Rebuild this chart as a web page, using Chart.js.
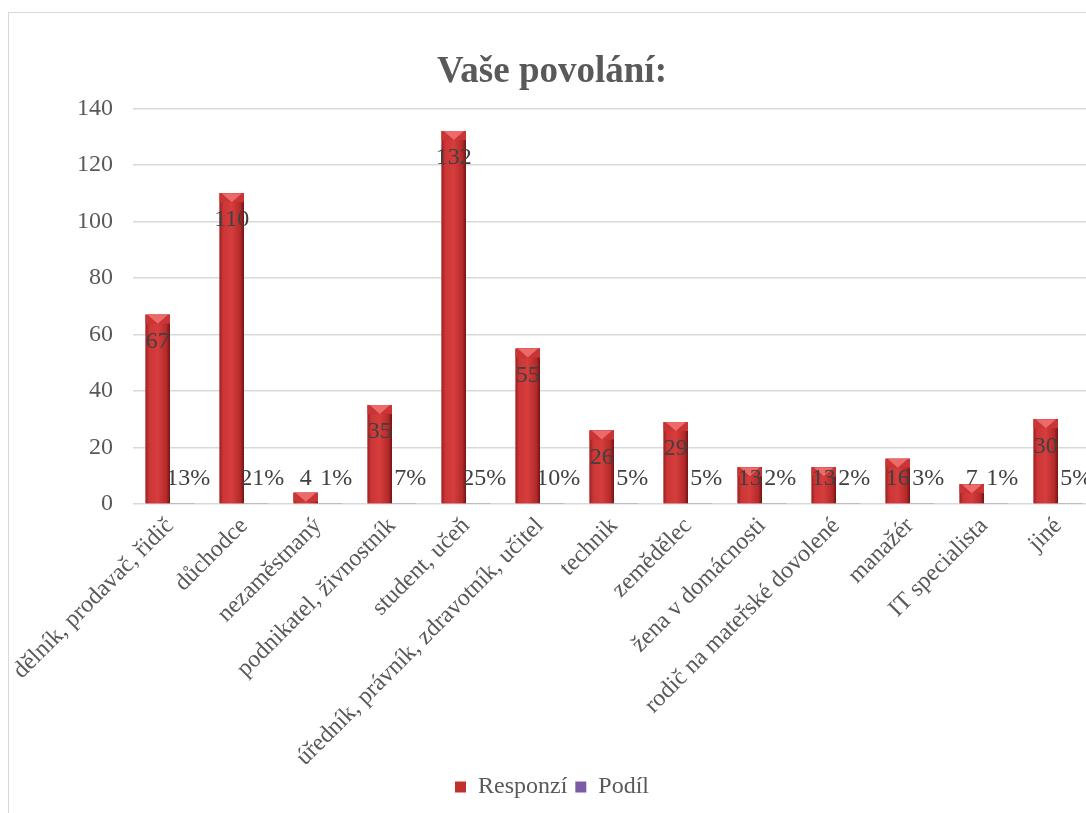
<!DOCTYPE html>
<html>
<head>
<meta charset="utf-8">
<script src="https://cdn.jsdelivr.net/npm/chart.js@4.4.0/dist/chart.umd.min.js"></script>
<style>
  body { margin: 0; background: #fff; overflow: hidden; }
  #ramec {
    position: absolute; left: 8px; top: 12px;
    width: 1116px; height: 801px;
    border-left: 1px solid #d9d9d9; border-top: 1px solid #d9d9d9;
  }
</style>
</head>
<body>
<div id="ramec"><canvas id="graf"></canvas></div>
<script>
// data z obrázku
const kategorie = [
  'dělník, prodavač, řidič', 'důchodce', 'nezaměstnaný', 'podnikatel, živnostník',
  'student, učeň', 'úředník, právník, zdravotník, učitel', 'technik', 'zemědělec',
  'žena v domácnosti', 'rodič na mateřské dovolené', 'manažér', 'IT specialista', 'jiné'
];
const responzi = [67, 110, 4, 35, 132, 55, 26, 29, 13, 13, 16, 7, 30];
const podil = [0.13, 0.21, 0.01, 0.07, 0.25, 0.10, 0.05, 0.05, 0.02, 0.02, 0.03, 0.01, 0.05];
const osaY = [0, 20, 40, 60, 80, 100, 120, 140];

const pismo = "'Liberation Serif', 'Times New Roman', serif";

// 3D vzhled červených sloupců
const stinovani = {
  id: 'stinovani',
  afterDatasetDraw(chart, args) {
    if (args.index !== 0) return;
    const ctx = chart.ctx;
    args.meta.data.forEach((bar) => {
      const l = bar.x - bar.width / 2, r = bar.x + bar.width / 2;
      const top = bar.y, h = bar.base - bar.y;
      const g = ctx.createLinearGradient(l, 0, r, 0);
      g.addColorStop(0, '#9c2020');
      g.addColorStop(0.15, '#cc3636');
      g.addColorStop(0.5, '#d63d3d');
      g.addColorStop(0.85, '#b42a2a');
      g.addColorStop(1, '#741313');
      ctx.save();
      ctx.fillStyle = g;
      ctx.fillRect(l, top, bar.width, h);
      const cap = Math.min(9, h);
      ctx.fillStyle = '#c93434';
      ctx.fillRect(l, top, bar.width, cap);
      ctx.beginPath();
      ctx.moveTo(l + 2, top);
      ctx.lineTo(r - 2, top);
      ctx.lineTo(bar.x, top + cap);
      ctx.closePath();
      ctx.fillStyle = '#ec6a6a';
      ctx.fill();
      ctx.restore();
    });
  }
};

// popisky hodnot
const popisky = {
  id: 'popisky',
  afterDatasetsDraw(chart) {
    const ctx = chart.ctx;
    ctx.save();
    ctx.font = '24px ' + pismo;
    ctx.fillStyle = '#404040';
    ctx.textAlign = 'center';
    ctx.textBaseline = 'middle';
    chart.getDatasetMeta(0).data.forEach((bar, i) => {
      const y = Math.min(bar.y + 27, bar.base - 25);
      ctx.fillText(responzi[i], bar.x, y);
    });
    chart.getDatasetMeta(1).data.forEach((bar, i) => {
      ctx.fillText(Math.round(podil[i] * 100) + '%', bar.x + 6, bar.base - 25);
    });
    ctx.restore();
  }
};

new Chart(document.getElementById('graf'), {
  type: 'bar',
  data: {
    labels: kategorie,
    datasets: [
      { label: 'Responzí', data: responzi, backgroundColor: '#c0302f', barPercentage: 1, categoryPercentage: 0.66 },
      { label: 'Podíl', data: podil, backgroundColor: '#7b5ba6', minBarLength: 1, barPercentage: 1, categoryPercentage: 0.66 }
    ]
  },
  options: {
    responsive: true,
    maintainAspectRatio: false,
    animation: false,
    layout: { padding: { right: 30, bottom: 5 } },
    plugins: {
      title: {
        display: true,
        text: 'Vaše povolání:',
        color: '#595959',
        font: { family: pismo, size: 37, weight: 'bold' },
        padding: { top: 37, bottom: 14 }
      },
      legend: {
        position: 'bottom',
        labels: {
          color: '#595959',
          font: { family: pismo, size: 24 },
          boxWidth: 11, boxHeight: 11, padding: 8
        }
      },
      tooltip: { enabled: false }
    },
    scales: {
      x: {
        grid: { display: false },
        border: { display: false },
        afterFit: (s) => { s.height = 263; },
        ticks: {
          color: '#595959',
          font: { family: pismo, size: 24 },
          padding: 0,
          maxRotation: 45, minRotation: 45, autoSkip: false
        }
      },
      y: {
        min: 0, max: 140,
        afterBuildTicks: (s) => { s.ticks = osaY.map((v) => ({ value: v })); },
        afterFit: (s) => { s.width = 124; },
        grid: { color: '#d9d9d9', lineWidth: 1.5, drawTicks: false },
        border: { display: false },
        ticks: {
          color: '#595959',
          font: { family: pismo, size: 24 },
          padding: 20
        }
      }
    }
  },
  plugins: [stinovani, popisky]
});
</script>
</body>
</html>
